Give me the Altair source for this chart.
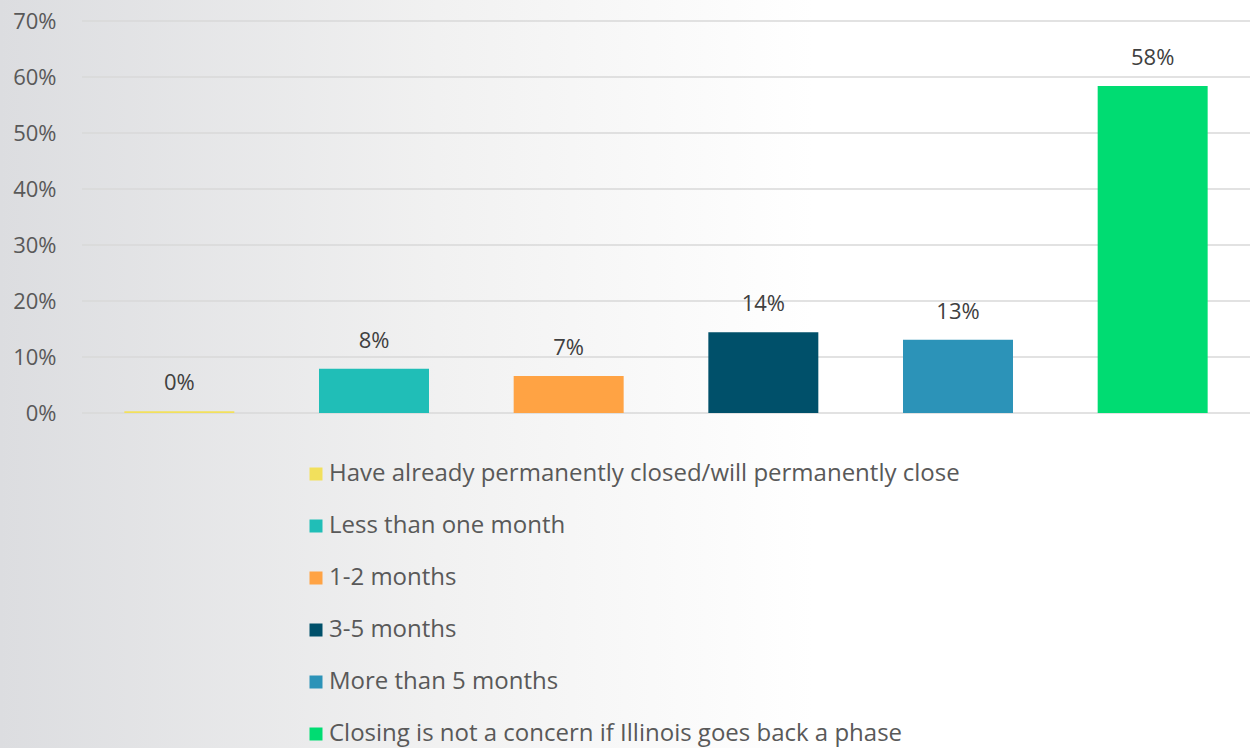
import altair as alt
import pandas as pd

categories = [
    "Have already permanently closed/will permanently close",
    "Less than one month",
    "1-2 months",
    "3-5 months",
    "More than 5 months",
    "Closing is not a concern if Illinois goes back a phase",
]
values = [0.3, 7.9, 6.6, 14.4, 13.1, 58.4]
colors = ["#F2E05C", "#20BEB7", "#FFA344", "#00506A", "#2C93B8", "#00DC72"]
y_ticks = [0, 10, 20, 30, 40, 50, 60, 70]

df = pd.DataFrame({"cat": categories, "val": values})
grid_df = pd.DataFrame({"tick": y_ticks})

W, H = 1168, 392
PAD_L, PAD_T, PAD_B = 82, 21, 335
FONT = "Open Sans"
TXT = "#595959"

yscale = alt.Scale(domain=[0, 70], nice=False)
yaxis = alt.Axis(values=y_ticks, labelExpr="datum.value + '%'",
                 title=None, domain=False, ticks=False, grid=False,
                 labelFont=FONT, labelFontSize=22, labelColor=TXT,
                 labelPadding=26, zindex=1)

bg = alt.Chart(df).mark_rect(
    fill=alt.Gradient(
        gradient="linear", x1=0, x2=1, y1=0, y2=0,
        stops=[alt.GradientStop(color="#dcdde0", offset=0),
               alt.GradientStop(color="#f1f1f1", offset=0.35),
               alt.GradientStop(color="#ffffff", offset=0.65),
               alt.GradientStop(color="#ffffff", offset=1)],
    ),
).encode(
    x=alt.value(-PAD_L), x2=alt.value(W),
    y=alt.value(-PAD_T), y2=alt.value(H + PAD_B),
)

grid = alt.Chart(grid_df).mark_rule(color="#d9d9d9", strokeWidth=1.3).encode(
    y=alt.Y("tick:Q", scale=yscale, axis=yaxis),
    x=alt.value(0), x2=alt.value(W),
)

xenc = alt.X("cat:N", sort=categories,
             scale=alt.Scale(paddingInner=0.435, paddingOuter=0.2175),
             axis=None)

bars = alt.Chart(df).mark_bar().encode(
    x=xenc,
    y=alt.Y("val:Q", scale=yscale, axis=yaxis),
    color=alt.Color("cat:N", sort=categories,
                    scale=alt.Scale(domain=categories, range=colors),
                    legend=alt.Legend(title=None, orient="none",
                                      legendX=222, legendY=441,
                                      direction="vertical",
                                      symbolType="square", symbolSize=169,
                                      symbolStrokeWidth=0,
                                      labelFont=FONT, labelFontSize=24,
                                      labelColor=TXT, labelLimit=900,
                                      labelOffset=1, rowPadding=28)),
)

labels = alt.Chart(df).transform_calculate(
    lbl="format(datum.val, '.0f') + '%'"
).mark_text(
    dy=-28, font=FONT, fontSize=22, color="#404040"
).encode(
    x=xenc,
    y=alt.Y("val:Q", scale=yscale, axis=yaxis),
    text="lbl:N",
)

chart = alt.layer(bg, grid, bars, labels).properties(
    width=W, height=H,
    autosize=alt.AutoSizeParams(type="none"),
    padding={"left": PAD_L, "top": PAD_T, "right": 0, "bottom": PAD_B},
    background="#ffffff",
).configure_view(stroke=None)

chart.save("out.html", embed_options={"renderer": "svg", "actions": False})
